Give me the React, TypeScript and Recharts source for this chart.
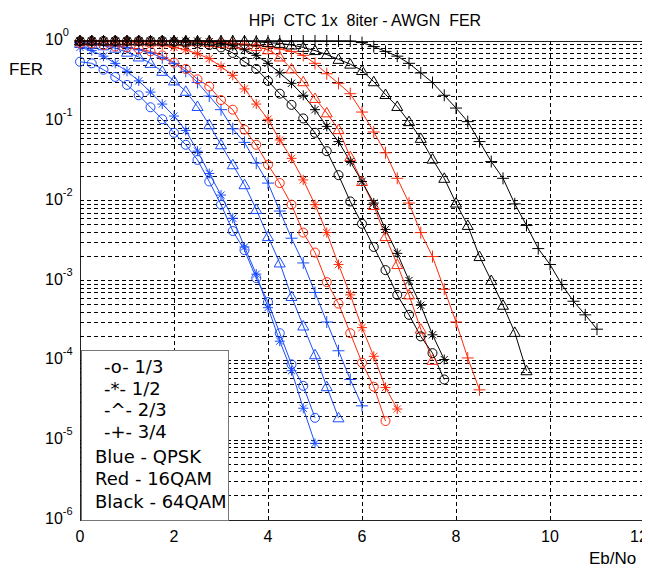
import { LineChart, Line, XAxis, YAxis, ReferenceLine, ReferenceArea } from "recharts";

// Eb/No sample points in dB (0.25 dB steps)
const ebNo = [
  0, 0.25, 0.5, 0.75, 1, 1.25, 1.5, 1.75, 2, 2.25, 2.5, 2.75, 3, 3.25, 3.5, 3.75,
  4, 4.25, 4.5, 4.75, 5, 5.25, 5.5, 5.75, 6, 6.25, 6.5, 6.75, 7, 7.25, 7.5, 7.75,
  8, 8.25, 8.5, 8.75, 9, 9.25, 9.5, 9.75, 10, 10.25, 10.5, 10.75, 11,
];

// FER, stored as log10(FER), one value per Eb/No step from 0 dB
const qpsk13 = [
  -0.26, -0.28, -0.36, -0.45, -0.55, -0.68, -0.83, -0.98, -1.15, -1.3, -1.49, -1.76,
  -2.05, -2.38, -2.62, -2.97, -3.27, -3.66, -4.05, -4.32, -4.72,
];
const qpsk12 = [
  -0.08, -0.12, -0.19, -0.28, -0.38, -0.5, -0.64, -0.79, -0.94, -1.12, -1.38, -1.66,
  -1.93, -2.22, -2.58, -2.92, -3.34, -3.76, -4.13, -4.6, -5.04,
];
const qpsk23 = [
  -0.03, -0.04, -0.06, -0.09, -0.14, -0.2, -0.28, -0.38, -0.5, -0.63, -0.82, -1.05,
  -1.3, -1.55, -1.8, -2.11, -2.45, -2.78, -3.2, -3.57, -3.93, -4.33, -4.72,
];
const qpsk34 = [
  -0.02, -0.03, -0.04, -0.06, -0.08, -0.11, -0.15, -0.21, -0.28, -0.38, -0.52, -0.69,
  -0.86, -1.1, -1.27, -1.53, -1.78, -2.13, -2.47, -2.78, -3.15, -3.52, -3.88, -4.24,
  -4.57,
];
const qam16r13 = [
  -0.03, -0.03, -0.05, -0.07, -0.08, -0.1, -0.13, -0.18, -0.27, -0.35, -0.48, -0.57,
  -0.74, -0.86, -1.11, -1.3, -1.55, -1.78, -2.05, -2.4, -2.65, -3.02, -3.29, -3.66,
  -4.03, -4.33, -4.76,
];
const qam16r12 = [
  -0.01, -0.01, -0.01, -0.01, -0.01, -0.02, -0.03, -0.05, -0.08, -0.11, -0.16, -0.22,
  -0.32, -0.43, -0.6, -0.79, -0.98, -1.24, -1.47, -1.74, -2.05, -2.4, -2.8, -3.18,
  -3.59, -3.95, -4.34, -4.61,
];
const qam16r23 = [
  0, 0, 0, 0, 0, 0, -0.01, -0.01, -0.01, -0.01, -0.01, -0.02, -0.03, -0.04, -0.05,
  -0.07, -0.11, -0.2, -0.35, -0.51, -0.72, -0.9, -1.11, -1.45, -1.76, -2.06, -2.45,
  -2.8, -3.18, -3.61, -4.0,
];
const qam16r34 = [
  0, 0, 0, 0, 0, 0, 0, 0, 0, -0.01, -0.01, -0.02, -0.02, -0.03, -0.04, -0.05, -0.07,
  -0.1, -0.13, -0.18, -0.28, -0.41, -0.53, -0.66, -0.89, -1.14, -1.4, -1.72, -2.03,
  -2.4, -2.7, -3.11, -3.52, -3.97, -4.37,
];
const qam64r13 = [
  0, 0, 0, 0, 0, 0, 0, 0, -0.01, -0.02, -0.03, -0.05, -0.08, -0.15, -0.26, -0.35,
  -0.5, -0.66, -0.8, -0.97, -1.15, -1.38, -1.68, -2.01, -2.29, -2.58, -2.87, -3.18,
  -3.43, -3.7, -3.91, -4.24,
];
const qam64r12 = [
  0, 0, 0, 0, 0, 0, 0, 0, 0, 0, 0, -0.01, -0.03, -0.06, -0.11, -0.18, -0.28, -0.4,
  -0.53, -0.68, -0.86, -1.07, -1.26, -1.51, -1.76, -2.03, -2.36, -2.66, -3.0, -3.31,
  -3.68, -3.99,
];
const qam64r23 = [
  0, 0, 0, 0, 0, 0, 0, 0, 0, 0, 0, 0, 0, 0, 0, -0.01, -0.02, -0.03, -0.05, -0.08,
  -0.12, -0.17, -0.23, -0.29, -0.37, -0.51, -0.67, -0.82, -1.01, -1.22, -1.48, -1.72,
  -2.03, -2.31, -2.7, -3.0, -3.31, -3.65, -4.13,
];
const qam64r34 = [
  0, 0, 0, 0, 0, 0, 0, 0, 0, 0, 0, 0, 0, 0, 0, 0, 0, 0, 0, 0, 0, 0, 0, 0, -0.02,
  -0.07, -0.13, -0.19, -0.28, -0.4, -0.52, -0.68, -0.84, -1.01, -1.26, -1.51, -1.72,
  -2.04, -2.31, -2.6, -2.8, -3.05, -3.26, -3.43, -3.61,
];

const xTicks = [0, 2, 4, 6, 8, 10, 12];
const yTicks = [-6, -5, -4, -3, -2, -1, 0];
const legendRates = ["-o- 1/3", "-*- 1/2", "-^- 2/3", "-+- 3/4"];
const legendMods = ["Blue - QPSK", "Red - 16QAM", "Black - 64QAM"];

const BLUE = "#1a4dff";
const RED = "#ff2a0a";
const BLACK = "#000000";

const series = [
  { key: "qpsk13", data: qpsk13, color: BLUE, marker: "o" },
  { key: "qpsk12", data: qpsk12, color: BLUE, marker: "*" },
  { key: "qpsk23", data: qpsk23, color: BLUE, marker: "^" },
  { key: "qpsk34", data: qpsk34, color: BLUE, marker: "+" },
  { key: "qam16r13", data: qam16r13, color: RED, marker: "o" },
  { key: "qam16r12", data: qam16r12, color: RED, marker: "*" },
  { key: "qam16r23", data: qam16r23, color: RED, marker: "^" },
  { key: "qam16r34", data: qam16r34, color: RED, marker: "+" },
  { key: "qam64r13", data: qam64r13, color: BLACK, marker: "o" },
  { key: "qam64r12", data: qam64r12, color: BLACK, marker: "*" },
  { key: "qam64r23", data: qam64r23, color: BLACK, marker: "^" },
  { key: "qam64r34", data: qam64r34, color: BLACK, marker: "+" },
];

const rows = ebNo.map((x, i) => {
  const row: Record<string, number | undefined> = { x };
  series.forEach((s) => {
    row[s.key] = s.data[i];
  });
  return row;
});

// dashed grid at every 1..9 x 10^k, like matlab's minor log grid
const gridY = yTicks
  .slice(0, -1)
  .flatMap((d) => [1, 2, 3, 4, 5, 6, 7, 8, 9].map((m) => d + Math.log10(m)))
  .filter((v) => v > -6);
const gridX = [2, 4, 6, 8, 10];

const SANS = "'Liberation Sans', Arial, sans-serif";

const makeDot = (marker: string, color: string) => (props: any) => {
  const { cx, cy, index } = props;
  if (cx == null || cy == null || Number.isNaN(cx) || Number.isNaN(cy)) {
    return <g key={index} />;
  }
  const common = { stroke: color, strokeWidth: 1, fill: "none" };
  if (marker === "o") {
    return <circle key={index} cx={cx} cy={cy} r={4.5} {...common} />;
  }
  if (marker === "^") {
    return (
      <polygon
        key={index}
        points={`${cx},${cy - 5.5} ${cx + 5.5},${cy + 4} ${cx - 5.5},${cy + 4}`}
        {...common}
      />
    );
  }
  if (marker === "+") {
    return (
      <path
        key={index}
        d={`M${cx - 6},${cy}H${cx + 6}M${cx},${cy - 6}V${cy + 6}`}
        {...common}
      />
    );
  }
  return (
    <path
      key={index}
      d={`M${cx - 5},${cy}H${cx + 5}M${cx},${cy - 5}V${cy + 5}M${cx - 3.6},${cy - 3.6}L${cx + 3.6},${cy + 3.6}M${cx - 3.6},${cy + 3.6}L${cx + 3.6},${cy - 3.6}`}
      {...common}
    />
  );
};

const PowerTick = ({ x, y, payload }: any) => (
  <text x={x - 35} y={y + 4} fontSize={16} fontFamily={SANS} fill="#000">
    10
    <tspan dy={-9} fontSize={11}>
      {payload.value}
    </tspan>
  </text>
);

// last label sits against the right edge, nudge it in so both digits show
const DbTick = ({ x, y, payload, index }: any) => (
  <text
    x={index === xTicks.length - 1 ? x - 5 : x}
    y={y + 22}
    fontSize={16}
    fontFamily={SANS}
    fill="#000"
    textAnchor="middle"
  >
    {payload.value}
  </text>
);

export default function App() {
  return (
    <div
      style={{
        position: "relative",
        width: 650,
        height: 570,
        margin: "-8px 0 0 -8px",
        background: "#fff",
      }}
    >
      <LineChart
        width={650}
        height={570}
        data={rows}
        margin={{ top: 41, right: 6, bottom: 20, left: 40 }}
      >
        <XAxis
          dataKey="x"
          type="number"
          domain={[0, 12]}
          ticks={xTicks}
          axisLine={false}
          tickLine={false}
          tickSize={0}
          tickMargin={0}
          height={30}
          interval={0}
          tick={<DbTick />}
        />
        <YAxis
          type="number"
          domain={[-6, 0]}
          ticks={yTicks}
          axisLine={false}
          tickLine={false}
          tickSize={0}
          tickMargin={0}
          width={40}
          tick={<PowerTick />}
        />
        {gridY.map((v) => (
          <ReferenceLine
            key={`gy${v}`}
            y={v}
            stroke="#000"
            strokeDasharray="4 3"
            shapeRendering="crispEdges"
          />
        ))}
        {gridX.map((v) => (
          <ReferenceLine
            key={`gx${v}`}
            x={v}
            stroke="#000"
            strokeDasharray="4 3"
            shapeRendering="crispEdges"
          />
        ))}
        <ReferenceArea
          x1={0}
          x2={12}
          y1={-6}
          y2={0}
          fill="none"
          stroke="#222"
          strokeOpacity={1}
          shapeRendering="crispEdges"
        />
        {series.map((s) => (
          <Line
            key={s.key}
            dataKey={s.key}
            type="linear"
            stroke={s.color}
            strokeWidth={1}
            dot={makeDot(s.marker, s.color)}
            activeDot={false}
            isAnimationActive={false}
          />
        ))}
      </LineChart>

      <svg
        width={650}
        height={570}
        style={{ position: "absolute", left: 0, top: 0, pointerEvents: "none" }}
      >
        <text
          x={365}
          y={26}
          fontSize={16}
          fontFamily={SANS}
          textAnchor="middle"
          style={{ whiteSpace: "pre" }}
        >
          HPi  CTC 1x  8iter - AWGN  FER
        </text>
        <text x={9} y={75} fontSize={17} fontFamily={SANS}>
          FER
        </text>
        <text x={589} y={564} fontSize={17} fontFamily={SANS}>
          Eb/No
        </text>
      </svg>

      <div
        style={{
          position: "absolute",
          left: 81,
          top: 350,
          width: 148,
          height: 171,
          boxSizing: "border-box",
          background: "#fff",
          border: "1px solid #777",
          fontFamily: "'DejaVu Sans', Verdana, sans-serif",
          fontSize: 18,
          lineHeight: "22px",
          color: "#000",
          whiteSpace: "pre",
        }}
      >
        {legendRates.map((t, i) => (
          <div key={t} style={{ position: "absolute", left: 22, top: [5, 27, 48, 70][i] }}>
            {t}
          </div>
        ))}
        {legendMods.map((t, i) => (
          <div key={t} style={{ position: "absolute", left: 13, top: [95, 117, 140][i] }}>
            {t}
          </div>
        ))}
      </div>
    </div>
  );
}
